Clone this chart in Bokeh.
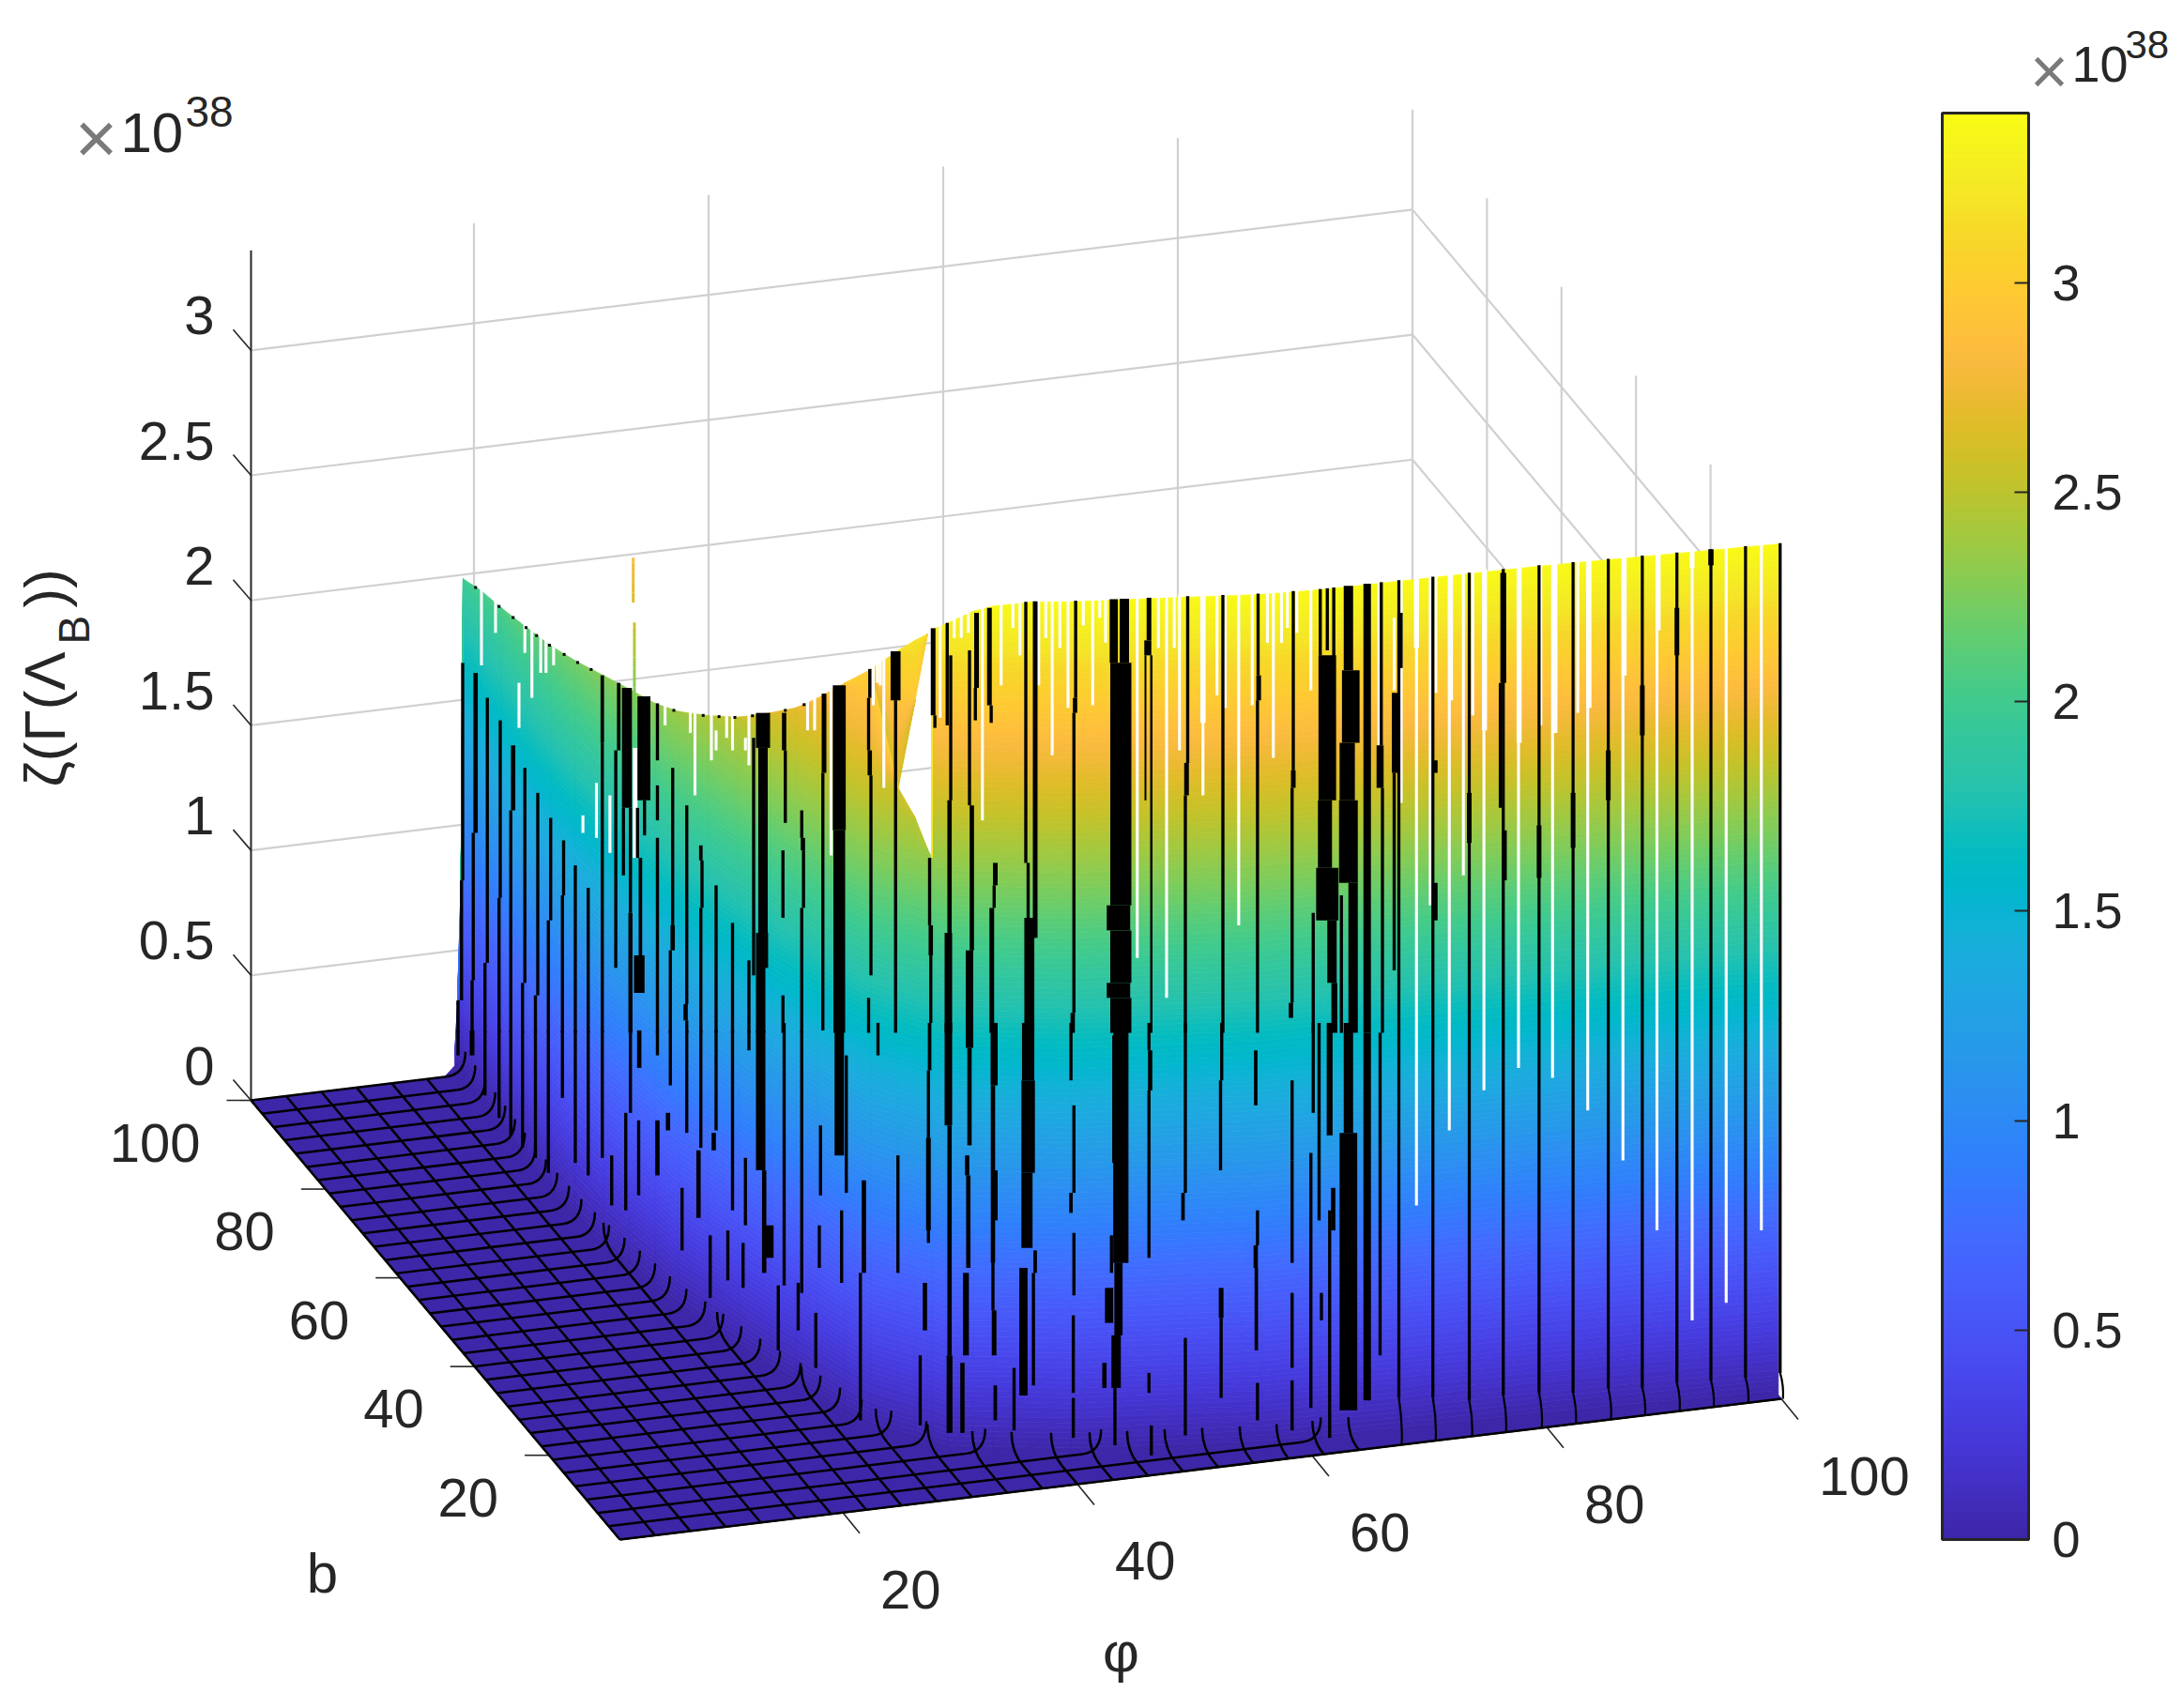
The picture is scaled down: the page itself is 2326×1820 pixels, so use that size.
import numpy as np
from bokeh.plotting import figure
from bokeh.embed import file_html
from bokeh.resources import INLINE
from bokeh.core.properties import value
from bokeh.models import Range1d, ColorBar, LinearColorMapper, FixedTicker

# ---------------- axes -----------------------------------------------------
phi_ticks = [20, 40, 60, 80, 100]
b_ticks = [20, 40, 60, 80, 100]
z_ticks = [0, 0.5, 1, 1.5, 2, 2.5, 3]
z_labels = ["0", "0.5", "1", "1.5", "2", "2.5", "3"]
cb_ticks = [0, 0.5, 1, 1.5, 2, 2.5, 3]
Z_MAX = 3.405
mesh_phi = list(range(1, 101, 3))
mesh_b = list(range(1, 101, 3))

# ---------------- foot of the wall and its crest ----
wall_phi = [19.0, 19.1, 19.25, 19.3, 19.1, 18.9, 18.6, 18.5, 18.6, 19.0, 19.6, 20.2, 20.7, 21.7, 22.7,
            23.8, 24.8, 25.6, 26.6, 27.7, 29.3, 30.3, 31.0, 31.3, 31.35, 32.2, 34.1, 35.6, 38.4, 41.5,
            50.7, 56.7, 61.7, 68.2, 79.9, 100.0]
wall_b = [102.0, 101.6, 101.1, 100.7, 95.3, 89.2, 81.5, 74.5, 68.3, 62.1, 57.2, 52.0, 47.2, 42.6, 37.4,
          32.4, 28.7, 25.5, 21.3, 17.8, 15.4, 14.0, 12.9, 12.7, 12.7, 11.1, 10.3, 9.8, 8.7, 7.5,
          5.6, 4.3, 4.0, 3.6, 3.2, 1.8]
wall_top = [0.04, 0.25, 0.75, 1.97, 2.02, 2.06, 2.12, 2.17, 2.22, 2.27, 2.30, 2.33, 2.38, 2.44, 2.52,
            2.62, 2.70, 2.79, 2.92, 3.03, 3.14, 3.20, 3.24, 3.26, 3.26, 3.31, 3.36, 3.38, 3.40, 3.405,
            3.405, 3.405, 3.40, 3.405, 3.405, 3.405]
# the torn part of the sheet: {wall index: (lower z, upper z)}
tear = {20: (2.59, 2.59), 21: (2.49, 2.96), 22: (2.38, 3.24), 23: (2.35, 3.26)}
spikes = [(19.7, 56.3, 2.66, 2.84), (19.8, 56.3, 2.08, 2.58)]

# ---------------- mesh-line traces on the wall: (position, low, high[, width])
# position reads on the phi scale along the front edge, low/high on the z scale
# at the left axis; high = 9 means the trace reaches the crest.
left_traces = [
 (-12.4,.88,1.75),(-12.5,.40,.88),(-12.8,.27,.40),(-11.3,1.07,1.71,.37),(-11.5,.48,1.07),(-11.6,.27,.48),
 (-10.3,.55,1.61),(-10.5,.27,.55),(-9.2,.81,1.52),(-9.3,.27,.81),(-8.1,1.16,1.42,.37),(-8.3,.27,1.16),
 (-7.1,.47,1.33),(-7.3,.27,.47),(-6.0,.42,1.23),(-6.2,.27,.42),(-4.9,.72,1.13),(-5.1,.27,.72),
 (-3.8,.82,1.04),(-3.9,.27,.82),(-2.8,.27,.94),(-1.7,.27,.85),(-.5,1.43,1.70,.3),(-.5,.27,1.43),
 (.9,1.40,1.67,.3),(.65,.53,1.40),(1.6,1.17,1.65,.85),(1.3,.90,1.17),(1.9,.75,1.17),(1.9,.27,.75,.35),
 (3.05,1.20,1.62,1.1),(3.1,1.06,1.2),(2.5,.97,1.17),(2.75,.55,.97,.3),(2.65,.43,.58,.9),
 (4.2,1.36,1.59),(4.2,1.12,1.26),(4.2,.27,1.05),(5.5,.70,1.33),(5.5,.60,.70,.37),(5.3,.27,.6),
 (6.7,.385,1.18),(6.6,.32,.385,.37),(6.7,.27,.32),(7.9,.96,1.02,.3),(8,.77,.96),(7.9,.27,.77),
 (9.2,.27,.86),(10.6,.27,.71),(12,.27,.56),(12.4,.5,1.45),(13.2,1.41,1.55,1.2),(13.2,.67,1.41,.8),
 (13,.27,.67,.8),(13.5,.53,.67),(15,1.40,1.55,.37),(15.1,1.11,1.40),(14.9,.73,1),(14.9,.27,.42),
 (16.5,1.05,1.16),(16.6,1,1.05,.37),(16.65,.77,1),(16.5,.27,.77),(18.4,1.31,1.63,.4),(18.3,.28,1.31),
 (19.7,1.08,1.66,1.1),(19.7,.27,1.08,1.0),(22.3,1.61,1.74),(22.2,1.40,1.61),(22.3,1.30,1.40,.37),
 (22.4,.5,1.30),(22.2,.27,.41),(24.5,1.60,1.80,.85),(24.5,.27,1.6),
]
left_foot_traces = [
 (-12.8,.18,.28),(-11.6,.18,.28,.4),(-10.5,.02,.28),(-9.3,-.07,.28),(-8.3,-.14,.28),(-7.3,-.19,.28),
 (-6.2,-.23,.28),(-5.1,-.29,.28),(-3.9,.01,.28),(-2.8,-.25,.28),(-1.7,-.30,.28),(-.5,-.23,.28),(.3,-.42,-.22),
 (1.5,-.44,-.05),(1.9,-.05,.28),(2.65,.13,.28,.37),(2.6,-.38,-.08),(4.2,.18,.28),(4.2,-.30,-.08,.37),(5.1,-.12,-.05,.37),
 (5.3,.06,.28),(6.7,-.13,.28),(6.3,-.60,-.35),(7.7,-.47,-.20,.37),(7.9,-.19,.28),(9,-.2,-.13,.37),(9.2,-.12,.28),(8.7,-.79,-.54),(10.6,-.44,.28),(10.2,-.72,-.52),
 (12,.2,.28),(11.7,-.5,-.23),(11.5,-.75,-.57),(13,-.28,.28,.8),(13.3,-.69,-.28,.37),(13.7,-.63,-.5,.8),(15,-.74,.31),
 (14.5,-1.0,-.74),(16.5,-.77,.28),(16.2,-.92,-.73),(18.1,-.38,-.1),(18,-.67,-.5),(17.7,-1.07,-.85),
 (19.7,-.22,.28,.8),(19.9,-.73,-.44),(20.3,-.37,.18),(21.8,-.69,-.32,.37),(21.5,-1.28,-.69),(23,.18,.31),
 (24.7,-.69,-.22),(27.3,-.57,-.15),(26.6,-1.3,-1.02),
]
middle_traces = [
 (27.7,1.54,1.89,.4),(27.85,1.49,1.54),(28.9,1.50,1.91),(29.2,1.2,1.78),(29.1,.67,1.2,.37),(29,.27,.67,.64),
 (31.4,1.65,1.95,.4),(31.3,1.52,1.65),(30.8,1.18,1.8),(31,.6,1.18,.37),(30.8,.27,.6,.64),
 (32.5,1.58,1.97,.4),(32.65,1.51,1.58),(33,.86,.95,.4),(32.9,.77,.86),(32.7,.27,.77,.4),
 (27.4,.7,.97),(27.5,.58,.7,.37),(27.5,.31,.58),(35.6,.95,2),(35.8,.73,.95),(36.4,.73,2,.4),(36.4,.65,.73,.4),
 (35.9,.27,.73,.85),(39.85,1.61,2),(39.8,1.55,1.61,.37),(39.7,.35,1.55),(39.6,.27,.35,.37),
 (43.1,1.75,9,.7),(44,1.75,9,.8),(43.7,.78,1.75,1.8),(43.5,.68,.78,2),(43.7,.47,.68,1.8),(43.5,.41,.47,2),(43.7,.27,.41,1.8),
 (46.1,1.84,9,.4),(46,1.78,1.84,.6),(45.8,1.2,1.78,.16),(46.3,.27,1.78,.2),(49.4,1.35,9),(49.3,1.22,1.35,.4),(49.2,.27,1.22),
 (52.4,.27,9),(55.4,1.7,9),(55.45,1.6,1.7,.4),(55.35,.27,1.6),(58.4,1.32,9),(58.4,1.25,1.32,.4),(58.3,.39,1.25),(58.2,.33,.39,.37),
 (60.7,1.78,9),(61.3,1.8,9),(61.85,1.41,9),(61.3,1.2,1.78,1.5),(61.1,.93,1.2,1.2),(61.3,.72,.93,1.9),
 (60.1,.27,.75),(61.7,.47,.72,.8),(61.9,.27,.47,.5),(62.5,.27,.82),(63.1,1.72,9,.8),(63.3,1.43,1.72,1.5),(63,1.2,1.43,1.3),(63.1,.87,1.2,1.6),(63.5,.27,.87,.8),
 (64.7,.27,9,.64),(65.9,1.42,9),(65.8,1.25,1.42,.6),(66,.43,1.25),(66,.27,.43),(67.1,1.31,1.63,.6),(67,.52,1.31),(67.5,1.73,1.95,.45),
]
lower_traces = [
 (27.4,.12,.31,.3),(27.3,-.15,.12),(27.3,-.52,-.15,.4),(27,-.92,-.73,.37),(29,-.1,.31,.64),(29.1,-1.02,-.1,.37),(29.1,-1.33,-1.02,.5),
 (30.8,.21,.31,.64),(30.8,-.18,.21,.37),(30.6,-.3,-.22,.37),(30.7,-.67,-.3,.37),(30.5,-1.02,-.69,.5),(30.2,-1.33,-1.05,.37),
 (32.9,.06,.31,.6),(32.8,-.65,.06,.37),(32.95,-.48,-.28,.5),(32.8,-.84,-.65),(32.9,-1.02,-.84,.4),(33,-1.28,-1.14,.3),
 (35.8,.08,.31,1.05),(35.8,-.29,.08,1.15),(35.7,-.59,-.29,.95),(35.4,-1.18,-.67,.7),(36.4,-.69,-.6,.3),(36.25,-1.14,-.69),(34.6,-1.32,-1.07),
 (39.45,.08,.31),(39.7,-.37,-.02),(39.45,-.45,-.37,.3),(39.7,-.78,-.53),(39.65,-1.17,-.86),(39.65,-1.35,-1.19),
 (43.1,-.25,.26),(43.7,-.65,.31,1.3),(42.9,-.69,-.54),(42.7,-.89,-.75,.7),(43.5,-.94,-.65,.7),(43.3,-1.15,-.94,.8),(43.2,-1.38,-1.15),(42.3,-1.15,-1.05,.37),
 (46.1,.2,.31),(46.2,.04,.2,.37),(46.1,-.63,.04),(46.1,-1.17,-1.09),(46.3,-1.42,-1.3),(49.2,-.37,.31),(49,-.48,-.37,.3),(49.2,-1.34,-.95),
 (52.3,.08,.31),(52.2,-.28,.08),(52.25,-.87,-.75,.4),(52.25,-1.19,-.87),(55.2,-.02,.2,.3),(55.35,-.58,-.44),(55.2,-.67,-.58,.37),(55.25,-1,-.67,.3),(55.35,-1.28,-1.13),
 (58.3,-.24,.08),(58.3,-.65,-.24),(58.3,-1.07,-.77),(58.3,-1.32,-1.12),(59.9,-1.23,-.21),(60.1,-.05,.31),(60.6,-.48,.31),
 (61.5,-.14,.31,.5),(61.8,-.52,-.35,.37),(61.5,-1.35,-.44),(60.8,-.88,-.77),(63.1,-1.24,-.13,1.5),(63.1,-.13,.31,.8),(64.7,-1.2,.27,.64),(65.8,-1.02,.27),
]
right_u = [67.4, 70.3, 73.4, 76.3, 79.35, 82.25, 85.25, 88.15, 91.1, 94.0, 96.95, 99.9]
right_end = [-1.19, -1.19, -1.20, -1.18, -1.17, -1.17, -1.15, -1.15, -1.13, -1.12, -1.11, -1.09]
right_thick = [
 (67.5,1.73,1.95,.37),(70.5,1.31,1.36,.4),(70.5,.72,.87,.4),(73.4,1.03,1.23,.4),(76.3,1.67,2.11,.5),(76.05,1.17,1.67),
 (76.4,.88,1.08,.4),(79.35,.89,1.1,.4),(82.25,1.01,1.23,.4),(85.25,1.2,1.4,.4),(88.15,1.46,1.66,.4),(91.1,1.78,1.97,.4),(94,2.14,9,.45),
]
crest_dots = [-11.3,-9.3,-8.1,-7,-6.1,-5,-3.75,-2.6,-1.45,5.6,8.1,9.45,10.8,12.3,15.1,16.7]

# ---------------- gaps in the sheet: (position, low, high[, width]) ---------
white_left = [
 (-10.8,1.74,9),(-9.6,1.87,9),(-7.6,1.49,1.67),(-7.1,1.79,9),(-6.5,1.61,9),(-5.75,1.71,9),(-5.3,1.71,9),(-4.65,1.74,9),
 (-2.15,1.07,1.14),(-1,1.05,1.27),(.15,.99,1.22),(2.3,.97,1.41,.4),(3.25,1.46,1.5),(4.85,1.5,9),(7,1.47,9),(7.4,1.22,9),
 (8.8,1.36,9),(9.2,1.4,1.48),(10.1,1.45,9),(10.6,1.4,9),(11.7,1.4,1.45),(12,1.34,9),(17,1.48,9),(17.6,1.48,9),(19,.98,9),
 (22.6,1.58,9),(22.95,1.67,9),(23.5,1.25,9),(23.2,1.66,9),
]
white_middle = [
 (28.3,1.53,9),(29.5,1.85,9),(30.1,1.85,9),(30.7,1.87,9),(31.9,1.12,9),(33.5,1.66,9),(34.5,1.89,9),(35.1,1.78,9),(36.7,1.66,9),
 (37.3,1.85,9),(37.85,1.38,9),(38.5,1.81,9),(39.2,1.57,9),(40.5,1.9,9),(41.3,1.58,9),(41.9,1.93,9),(42.4,1.83,9),(45.1,.57,9),
 (46.9,1.81,9),(47.6,.41,9),(48.25,1.81,9),(48.7,1.4,9),(50.7,1.22,9),(50.7,1.51,9,.45),(51.9,1.62,9),(52.6,1.57,9),(53.75,.7,9),(54.9,1.58,9),
 (56.2,1.83,9),(56.7,1.37,9),(57.4,1.83,9),(57.9,1.89,9),(58.7,1.87,9),(59.9,1.64,9),(65.7,1.42,9),(67,1.64,1.93),(67.6,1.19,9),
]
white_right = [
 (68.9,-.42,9),(68.9,1.81,9,.43),(70.07,.78,9),(70.55,1.63,9),(71.7,-.12,9),(71.8,1.6,9,.43),(72.9,.9,9),(73.7,1.54,9),
 (74.65,.04,9),(74.7,1.48,9,.43),(77.6,.13,9),(77.65,1.43,9,.43),(79.5,1.5,9),(80.5,.09,9),(80.7,1.47,9,.43),(82.65,1.55,9),
 (83.5,-.04,9),(83.6,1.57,9,.43),(86.5,-.24,9),(86.6,1.7,9,.43),(89.4,-.52,9),(89.5,1.88,9,.43),(92.4,-.88,9),(92.4,2.13,9,.4),
 (95.3,-.81,9),(98.3,-.52,9),
]

# ---------------- colours ---------------------------------------------------
PARULA = [(.2422,.1504,.6603),(.2504,.1650,.7076),(.2578,.1818,.7511),(.2647,.1978,.7952),(.2706,.2147,.8364),(.2751,.2342,.8710),
 (.2783,.2559,.8991),(.2803,.2782,.9221),(.2813,.3006,.9414),(.2810,.3228,.9579),(.2795,.3447,.9717),(.2760,.3667,.9829),
 (.2699,.3892,.9906),(.2602,.4123,.9952),(.2440,.4358,.9988),(.2206,.4603,.9973),(.1963,.4847,.9892),(.1834,.5074,.9798),
 (.1786,.5289,.9682),(.1764,.5499,.9520),(.1687,.5703,.9359),(.1540,.5902,.9218),(.1460,.6091,.9079),(.1380,.6276,.8973),
 (.1248,.6459,.8883),(.1113,.6635,.8763),(.0952,.6798,.8598),(.0689,.6948,.8394),(.0297,.7082,.8163),(.0036,.7203,.7917),
 (.0067,.7312,.7660),(.0433,.7411,.7394),(.0964,.7500,.7120),(.1408,.7584,.6842),(.1717,.7670,.6554),(.1938,.7758,.6251),
 (.2161,.7843,.5923),(.2470,.7918,.5567),(.2906,.7973,.5188),(.3406,.8008,.4789),(.3909,.8029,.4354),(.4456,.8024,.3909),
 (.5044,.7993,.3480),(.5616,.7942,.3045),(.6174,.7876,.2612),(.6720,.7793,.2227),(.7242,.7698,.1910),(.7738,.7598,.1646),
 (.8203,.7498,.1535),(.8634,.7406,.1596),(.9035,.7330,.1774),(.9393,.7288,.2100),(.9728,.7298,.2394),(.9956,.7434,.2371),
 (.9970,.7659,.2199),(.9952,.7861,.1991),(.9892,.8086,.1797),(.9786,.8288,.1664),(.9676,.8513,.1580),(.9610,.8890,.1537),
 (.9597,.9135,.1423),(.9628,.9373,.1265),(.9691,.9606,.1064),(.9769,.9839,.0805)]
table = np.array(PARULA)
grid256 = np.linspace(0, 63, 256)
pal = ["#%02x%02x%02x" % tuple(int(round(255*np.interp(g, np.arange(64), table[:, c]))) for c in range(3)) for g in grid256]
def zcolor(z):
    return pal[int(np.clip(z/Z_MAX, 0, 1)*255)]

INK = "#262626"
GRID = "#d0d0d0"
FONT = value("Liberation Sans")

# ---------------- projection of the MATLAB-like view ------------------------
def project(phi, b, z):
    phi, b, z = np.asarray(phi, float), np.asarray(b, float), np.asarray(z, float)
    return 660 + 12.5*(phi-1) - 3.97*(b-1), 1640 - 1.515*(phi-1) - 4.727*(b-1) - 266.4*z

def view_x(u):
    return project(u, 1, 0)[0]
def view_y(w):
    return project(1, 100, w)[1]

p = figure(width=2310, height=1804, x_range=Range1d(0, 2310), y_range=Range1d(1804, 0),
           output_backend="svg", toolbar_location=None, min_border=0)
p.axis.visible = False
p.grid.visible = False
p.outline_line_color = None

# back planes: grid
zlim = 3.4
gx0, gy0, gx1, gy1 = [], [], [], []
def seg(a, c, store=(gx0, gy0, gx1, gy1)):
    x0, y0 = project(*a); x1, y1 = project(*c)
    store[0].append(float(x0)); store[1].append(float(y0)); store[2].append(float(x1)); store[3].append(float(y1))
for z in z_ticks:
    seg((1, 100, z), (100, 100, z))
    seg((100, 100, z), (100, 1, z))
for f in phi_ticks:
    seg((f, 100, 0), (f, 100, zlim))
for b in b_ticks[:-1]:
    seg((100, b, 0), (100, b, zlim))
p.segment(list(gx0), list(gy0), list(gx1), list(gy1), line_color=GRID, line_width=2.2)

# axes
ax = ([], [], [], [])
seg((1, 100, 0), (1, 100, zlim), ax)
seg((1, 100, 0), (1, 1, 0), ax)
seg((1, 1, 0), (100, 1, 0), ax)
p.segment(*ax, line_color=INK, line_width=2)
tx0, ty0 = project(1, 100, np.array(z_ticks))
p.segment(tx0, ty0, tx0-19, ty0-22, line_color=INK, line_width=1.6)
bx0, by0 = project(1, np.array(b_ticks), 0)
p.segment(bx0, by0, bx0-26, by0, line_color=INK, line_width=1.6)
fx0, fy0 = project(np.array(phi_ticks), 1, 0)
p.segment(fx0, fy0, fx0+18, fy0+22, line_color=INK, line_width=1.6)

# floor
wp, wb, wt = np.array(wall_phi), np.array(wall_b), np.array(wall_top)
fl_phi = np.r_[1, 1, wp[0]-1.5, wp, 100]
fl_b = np.r_[1, 100, 100, wb, 1]
fx, fy = project(fl_phi, fl_b, 0)
p.patch(fx, fy, fill_color=pal[0], line_color=pal[0], line_width=1)

# wall, one patch per colour band
lo = wt.copy(); hi = wt.copy()
for k, (a, c) in tear.items():
    lo[k] = a; hi[k] = c
levels = np.arange(0, Z_MAX, 0.02)
bx, by = project(wp, wb, 0)
band_xs, band_ys, band_cs = [], [], []
for zk in levels:
    xs, ys = [], []
    z2 = zk+0.02
    for i in range(len(wp)-1):
        for piece in (0, 1):
            if piece == 0:
                za = min(zk, lo[i]); zb = min(zk, lo[i+1]); zc = min(z2, lo[i+1]); zd = min(z2, lo[i])
            else:
                za = min(max(zk, hi[i]), wt[i]); zb = min(max(zk, hi[i+1]), wt[i+1])
                zc = min(max(z2, hi[i+1]), wt[i+1]); zd = min(max(z2, hi[i]), wt[i])
            if zc-zb < 1e-6 and zd-za < 1e-6:
                continue
            xs += [bx[i], bx[i+1], bx[i+1], bx[i], np.nan]
            ys += [by[i]-266.4*za, by[i+1]-266.4*zb, by[i+1]-266.4*zc, by[i]-266.4*zd, np.nan]
    if xs:
        band_xs.append(np.array(xs[:-1])); band_ys.append(np.array(ys[:-1])); band_cs.append(zcolor(zk+0.01))
p.patches(band_xs, band_ys, fill_color=band_cs, line_color=band_cs, line_width=0.7)

# crest helper for traces
crest_x, crest_y = project(wp, wb, wt)
def rows_to_quads(rows, default=0.25, cap=0):
    L, R, T, B = [], [], [], []
    for r in rows:
        u, a, c = r[0], r[1], r[2]
        wd = r[3] if len(r) > 3 else default
        x = float(view_x(u))
        half = wd*12.5/2
        ctop = float(np.interp(x, crest_x, crest_y))
        ya = float(view_y(a))
        yc = ctop-cap if c >= 9 else max(float(view_y(c)), ctop-cap)
        L.append(x-half); R.append(x+half); T.append(yc); B.append(ya)
    return L, R, T, B

# gaps
L, R, T, B = rows_to_quads(white_left+white_middle+white_right, 0.25, 3)
p.quad(left=L, right=R, top=T, bottom=B, fill_color="white", line_color=None)

# coloured spikes above the crest
sx, sy, sc, st = [], [], [], []
for f, b, za, zc in spikes:
    for zk in np.arange(za, zc, 0.04):
        x0, y0 = project(f, b, zk)
        x1, y1 = project(f, b, min(zk+0.04, zc))
        sx.append(float(x0)); sy.append(float(y0)); sc.append(zcolor(zk)); st.append(float(y1))
p.quad(left=[x-1.5 for x in sx], right=[x+1.5 for x in sx], top=st, bottom=sy, fill_color=sc, line_color=None)

# floor mesh
order = np.argsort(wb)
b_sorted, phi_by_b = wb[order], wp[order]
m = ([], [], [], [])
qx0, qy0, qx1, qy1, qcx, qcy = [], [], [], [], [], []
for b in mesh_b:
    fe = float(np.interp(b, b_sorted, phi_by_b))
    if b == 1:
        seg((1, 1, 0), (100, 1, 0), m); continue
    seg((1, b, 0), (fe-1.6, b, 0), m)
    x0, y0 = project(fe-1.6, b, 0); xc, yc = project(fe, b, 0); x1, y1 = project(fe, b, 0.09)
    qx0.append(float(x0)); qy0.append(float(y0)); qcx.append(float(xc)); qcy.append(float(yc)); qx1.append(float(x1)); qy1.append(float(y1))
ph_sub = wp[9:]; b_sub = wb[9:]
for f in mesh_phi:
    if f < 19:
        seg((f, 1, 0), (f, 100, 0), m); continue
    if f >= 67:
        continue
    be = float(np.interp(f, ph_sub, b_sub))
    seg((f, 1, 0), (f, max(be-3, 1), 0), m)
    x0, y0 = project(f, max(be-3, 1), 0); xc, yc = project(f, be, 0); x1, y1 = project(f, be, 0.08)
    qx0.append(float(x0)); qy0.append(float(y0)); qcx.append(float(xc)); qcy.append(float(yc)); qx1.append(float(x1)); qy1.append(float(y1))
p.segment(*m, line_color="black", line_width=2.5)
p.quadratic(qx0, qy0, qx1, qy1, qcx, qcy, line_color="black", line_width=2.5)

# traces
rows = left_traces+left_foot_traces+middle_traces+lower_traces+right_thick
rows = rows+[(u, e, 9, 0.26) for u, e in zip(right_u, right_end)]
L, R, T, B = rows_to_quads(rows, 0.27, 1)
p.quad(left=L, right=R, top=T, bottom=B, fill_color="black", line_color=None)
# right-hand line feet
rx0 = view_x(np.array(right_u)); ry0 = view_y(np.array(right_end))
_, edge = project(np.array(right_u), 1, 0)
p.quadratic(rx0, ry0, rx0+3, edge, rx0+4, (ry0+edge)/2, line_color="black", line_width=2.2)
# crest dots
dx = view_x(np.array(crest_dots)); dy = np.interp(dx, crest_x, crest_y)
p.quad(left=dx-1.5, right=dx+1.5, top=dy-1, bottom=dy+2, fill_color="black", line_color=None)

# tick labels
tk = dict(text_font=FONT, text_color=INK, text_font_size="58px", text_baseline="middle")
p.text(tx0, ty0, text=z_labels, text_align="right", x_offset=-39, y_offset=-37, **tk)
p.text(bx0, by0, text=[str(v) for v in b_ticks], text_align="right", x_offset=-54, y_offset=45, **tk)
p.text(fx0, fy0, text=[str(v) for v in phi_ticks], text_align="left", x_offset=40, y_offset=82, **tk)

# axis titles and exponents, placed by their middle line
def label(x, y, s, size, angle=0, color=INK, align="left"):
    p.text([x], [y], text=[s], text_font=FONT, text_color=color, text_font_size=size, angle=angle,
           text_align=align, text_baseline="middle")
label(343, 1676, "b", "60px", align="center")
label(1194, 1760, "φ", "60px", align="center")
label(47, 838, "ζ(Γ(Λ", "62px", angle=np.pi/2)
label(78, 686, "B", "46px", angle=np.pi/2)
label(47, 647, "))", "62px", angle=np.pi/2)
label(102, 146, "×", "78px", color="#7a7a7a", align="center")
label(128, 141, "10", "60px")
label(197, 118, "38", "46px")
label(2183, 75, "×", "70px", color="#7a7a7a", align="center")
label(2207, 68, "10", "54px")
label(2264, 47, "38", "42px")

# colour bar
mapper = LinearColorMapper(palette=pal, low=0, high=Z_MAX)
cb = ColorBar(color_mapper=mapper, location=(2069, 164), width=92, height=1520, padding=0, margin=0,
              ticker=FixedTicker(ticks=cb_ticks), major_label_overrides={t: l for t, l in zip(cb_ticks, z_labels)},
              major_tick_in=15, major_tick_out=0, major_tick_line_color=INK, major_tick_line_width=2,
              minor_tick_line_color=None, bar_line_color=INK, bar_line_width=3, border_line_color=None,
              background_fill_color=None, major_label_text_font="Liberation Sans", major_label_text_font_size="54px",
              major_label_text_color=INK, label_standoff=25)
p.add_layout(cb, "center")

open("out.html", "w").write(file_html(p, INLINE))
